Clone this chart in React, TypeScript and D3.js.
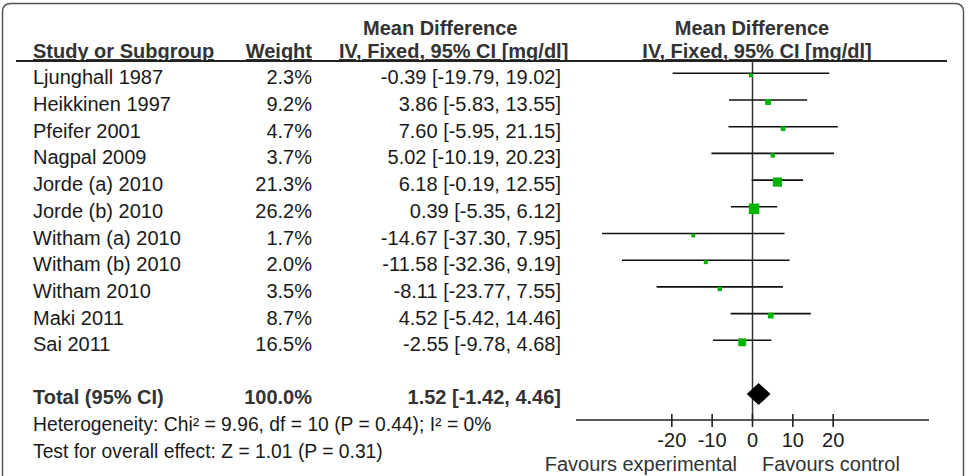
import React from "react";
import * as d3 from "d3";

const width = 969;
const height = 476;
const font = '"Liberation Sans", Arial, sans-serif';

// study rows
const studies = [
  "Ljunghall 1987",
  "Heikkinen 1997",
  "Pfeifer 2001",
  "Nagpal 2009",
  "Jorde (a) 2010",
  "Jorde (b) 2010",
  "Witham (a) 2010",
  "Witham (b) 2010",
  "Witham 2010",
  "Maki 2011",
  "Sai 2011",
];
const weights = [2.3, 9.2, 4.7, 3.7, 21.3, 26.2, 1.7, 2.0, 3.5, 8.7, 16.5];
const meanDiff = [-0.39, 3.86, 7.6, 5.02, 6.18, 0.39, -14.67, -11.58, -8.11, 4.52, -2.55];
const lower = [-19.79, -5.83, -5.95, -10.19, -0.19, -5.35, -37.3, -32.36, -23.77, -5.42, -9.78];
const upper = [19.02, 13.55, 21.15, 20.23, 12.55, 6.12, 7.95, 9.19, 7.55, 14.46, 4.68];

// pooled result
const totalWeight = 100.0;
const totalMD = 1.52;
const totalLower = -1.42;
const totalUpper = 4.46;

const axisTicks = [-20, -10, 0, 10, 20];
const heterogeneityText = "Heterogeneity: Chi² = 9.96, df = 10 (P = 0.44); I² = 0%";
const overallText = "Test for overall effect: Z = 1.01 (P = 0.31)";

const green = "#00b400";

export default function App() {
  const x = d3.scaleLinear().domain([-43.75, 43.75]).range([576, 929]);
  const y = d3.scalePoint<string>().domain(studies).range([73.3, 340.3]);
  const size = d3.scaleLinear().domain([0, 26.2]).range([3.4, 10.5]);

  const axisY = 420;
  const diamondY = 394;
  const fmt = (v: number) => v.toFixed(2);

  const rowText = {
    fontFamily: font,
    fontSize: 20,
    fill: "#1a1a1a",
  };
  const headText = {
    fontFamily: font,
    fontSize: 20,
    fontWeight: "bold" as const,
    fill: "#333",
  };

  return (
    <svg
      width={width}
      height={height}
      style={{ position: "absolute", left: 0, top: 0, background: "#fff" }}
    >
      {/* frame, open at the bottom */}
      <path
        d="M2.5,490 L2.5,12 Q2.5,3.5 11,3.5 L955,3.5 Q963.5,3.5 963.5,12 L963.5,490"
        fill="none"
        stroke="#555"
        strokeWidth={1.5}
      />

      {/* headers */}
      <text x={363} y={35} {...headText}>Mean Difference</text>
      <text x={752} y={35} textAnchor="middle" {...headText}>Mean Difference</text>
      <text x={33} y={58} {...headText} textDecoration="underline">Study or Subgroup</text>
      <text x={312} y={58} textAnchor="end" {...headText} textDecoration="underline">Weight</text>
      <text x={339} y={58} {...headText} textDecoration="underline">IV, Fixed, 95% CI [mg/dl]</text>
      <text x={757} y={58} textAnchor="middle" {...headText} textDecoration="underline">
        IV, Fixed, 95% CI [mg/dl]
      </text>
      <line x1={16} x2={947} y1={61} y2={61} stroke="#222" strokeWidth={1.8} />

      {/* table rows */}
      {studies.map((s, i) => {
        const yy = (y(s) as number) + 11;
        return (
          <g key={s}>
            <text x={33} y={yy} {...rowText}>{s}</text>
            <text x={312} y={yy} textAnchor="end" {...rowText}>
              {weights[i].toFixed(1)}%
            </text>
            <text x={561} y={yy} textAnchor="end" {...rowText}>
              {`${fmt(meanDiff[i])} [${fmt(lower[i])}, ${fmt(upper[i])}]`}
            </text>
          </g>
        );
      })}

      {/* total row */}
      <text x={33} y={404} {...headText}>Total (95% CI)</text>
      <text x={312} y={404} textAnchor="end" {...headText}>{totalWeight.toFixed(1)}%</text>
      <text x={561} y={404} textAnchor="end" {...headText}>
        {`${fmt(totalMD)} [${fmt(totalLower)}, ${fmt(totalUpper)}]`}
      </text>
      <text x={33} y={431} {...rowText} fontSize={19.3}>{heterogeneityText}</text>
      <text x={33} y={458} {...rowText} fontSize={19.3}>{overallText}</text>

      {/* zero line */}
      <line x1={x(0)} x2={x(0)} y1={61} y2={axisY} stroke="#333" strokeWidth={1.5} />

      {/* CIs + squares */}
      {studies.map((s, i) => {
        const yy = y(s) as number;
        const w = size(weights[i]);
        return (
          <g key={s}>
            <line x1={x(lower[i])} x2={x(upper[i])} y1={yy} y2={yy} stroke="#111" strokeWidth={1.6} />
            <rect x={x(meanDiff[i]) - w / 2} y={yy + 2 - w / 2} width={w} height={w} fill={green} />
          </g>
        );
      })}

      {/* pooled diamond */}
      <path
        d={`M${x(totalLower)},${diamondY} L${x(totalMD)},${diamondY - 11} L${x(totalUpper)},${diamondY} L${x(totalMD)},${diamondY + 11} Z`}
        fill="#000"
      />

      {/* axis */}
      <line x1={x.range()[0]} x2={x.range()[1]} y1={axisY} y2={axisY} stroke="#222" strokeWidth={1.6} />
      {axisTicks.map((t) => (
        <g key={t}>
          <line x1={x(t)} x2={x(t)} y1={axisY - 6} y2={axisY + 7} stroke="#222" strokeWidth={1.6} />
          <text x={x(t)} y={447} textAnchor="middle" {...rowText}>{t}</text>
        </g>
      ))}
      <text x={737} y={471} textAnchor="end" {...rowText} fill="#333">Favours experimental</text>
      <text x={762} y={471} {...rowText} fill="#333">Favours control</text>
    </svg>
  );
}
